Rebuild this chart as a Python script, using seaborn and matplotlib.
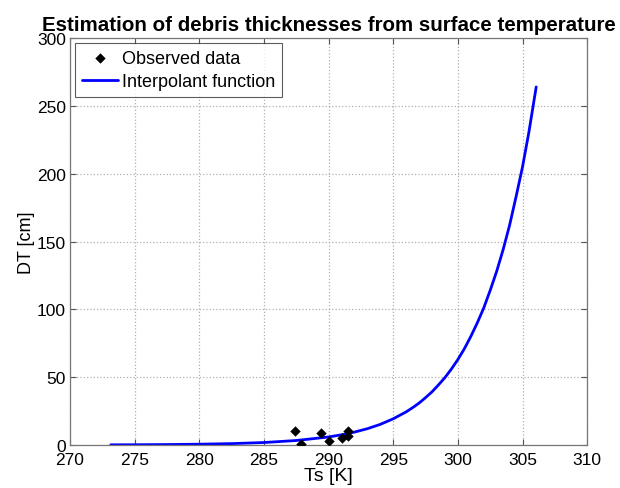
import matplotlib
matplotlib.use("Agg")
import matplotlib.pyplot as plt
import seaborn as sns
import pandas as pd

# Observed surface temperature (K) and debris thickness (cm)
obs_ts = [287.4, 287.9, 289.4, 290.0, 291.0, 291.5, 291.5]
obs_dt = [10.5, 0.7, 8.6, 3.2, 5.1, 10.5, 6.9]

# Interpolant function sampled along the temperature range
fit_ts = [273.15, 275, 277.5, 280, 282.5, 285, 287.5, 290, 291, 292, 293, 294,
          295, 296, 296.5, 297, 297.5, 298, 298.5, 299, 299.5, 300, 300.5, 301,
          301.5, 302, 302.5, 303, 303.5, 304, 304.5, 305, 305.5, 306.06]
fit_dt = [0.11, 0.17, 0.31, 0.56, 1.0, 1.8, 3.3, 5.9, 7.5, 9.5, 12.0, 15.2,
          19.3, 24.4, 27.5, 30.9, 34.9, 39.2, 44.3, 49.7, 56.0, 63, 70.9, 80,
          90, 101, 114, 128, 144, 162, 183, 205, 231, 264]

xticks = [270, 275, 280, 285, 290, 295, 300, 305, 310]
yticks = [0, 50, 100, 150, 200, 250, 300]

sns.set_theme(style="white")
plt.rcParams["font.family"] = ["Liberation Sans", "DejaVu Sans"]
plt.rcParams["text.color"] = "black"
plt.rcParams["axes.labelcolor"] = "black"
plt.rcParams["xtick.color"] = "black"
plt.rcParams["ytick.color"] = "black"

obs = pd.DataFrame({"Ts": obs_ts, "DT": obs_dt})
fit = pd.DataFrame({"Ts": fit_ts, "DT": fit_dt})

fig = plt.figure(figsize=(6.2, 4.89), dpi=100)
ax = fig.add_axes([0.113, 0.088, 0.834, 0.832])

sns.scatterplot(data=obs, x="Ts", y="DT", ax=ax, marker="D", s=28, color="black",
                edgecolor="black", linewidth=0, label="Observed data", zorder=3)
sns.lineplot(data=fit, x="Ts", y="DT", ax=ax, color="#0000ff", linewidth=2,
             label="Interpolant function", zorder=2)

ax.set_xlim(270, 310)
ax.set_ylim(0, 300)
ax.set_xticks(xticks)
ax.set_yticks(yticks)
ax.set_xticklabels([str(v) for v in xticks], fontsize=12.5)
ax.set_yticklabels([str(v) for v in yticks], fontsize=12.5)
ax.tick_params(axis="both", direction="in", length=4, width=0.8,
               top=True, right=True, bottom=True, left=True)
ax.tick_params(axis="x", pad=5, colors="black")
ax.tick_params(axis="y", pad=3, colors="black")
for t in ax.get_xticklines() + ax.get_yticklines():
    t.set_markeredgecolor("#555555")
ax.grid(True, linestyle=":", color="#b0b0b0", linewidth=0.9)
for s in ax.spines.values():
    s.set_color("#777777")
    s.set_linewidth(0.9)

ax.set_xlabel("Ts [K]", fontsize=14, labelpad=0)
ax.set_ylabel("DT [cm]", fontsize=13, labelpad=1)
ax.set_title("Estimation of debris thicknesses from surface temperature",
             fontsize=14.8, fontweight="bold", pad=6)

leg = ax.legend(loc="upper left", fontsize=13, frameon=True, fancybox=False,
                borderaxespad=0.25, handlelength=2.0, handletextpad=0.2,
                borderpad=0.4, labelspacing=0.35)
leg.get_frame().set_edgecolor("#333333")
leg.get_frame().set_linewidth(0.8)

fig.savefig("out.png", dpi=100)
